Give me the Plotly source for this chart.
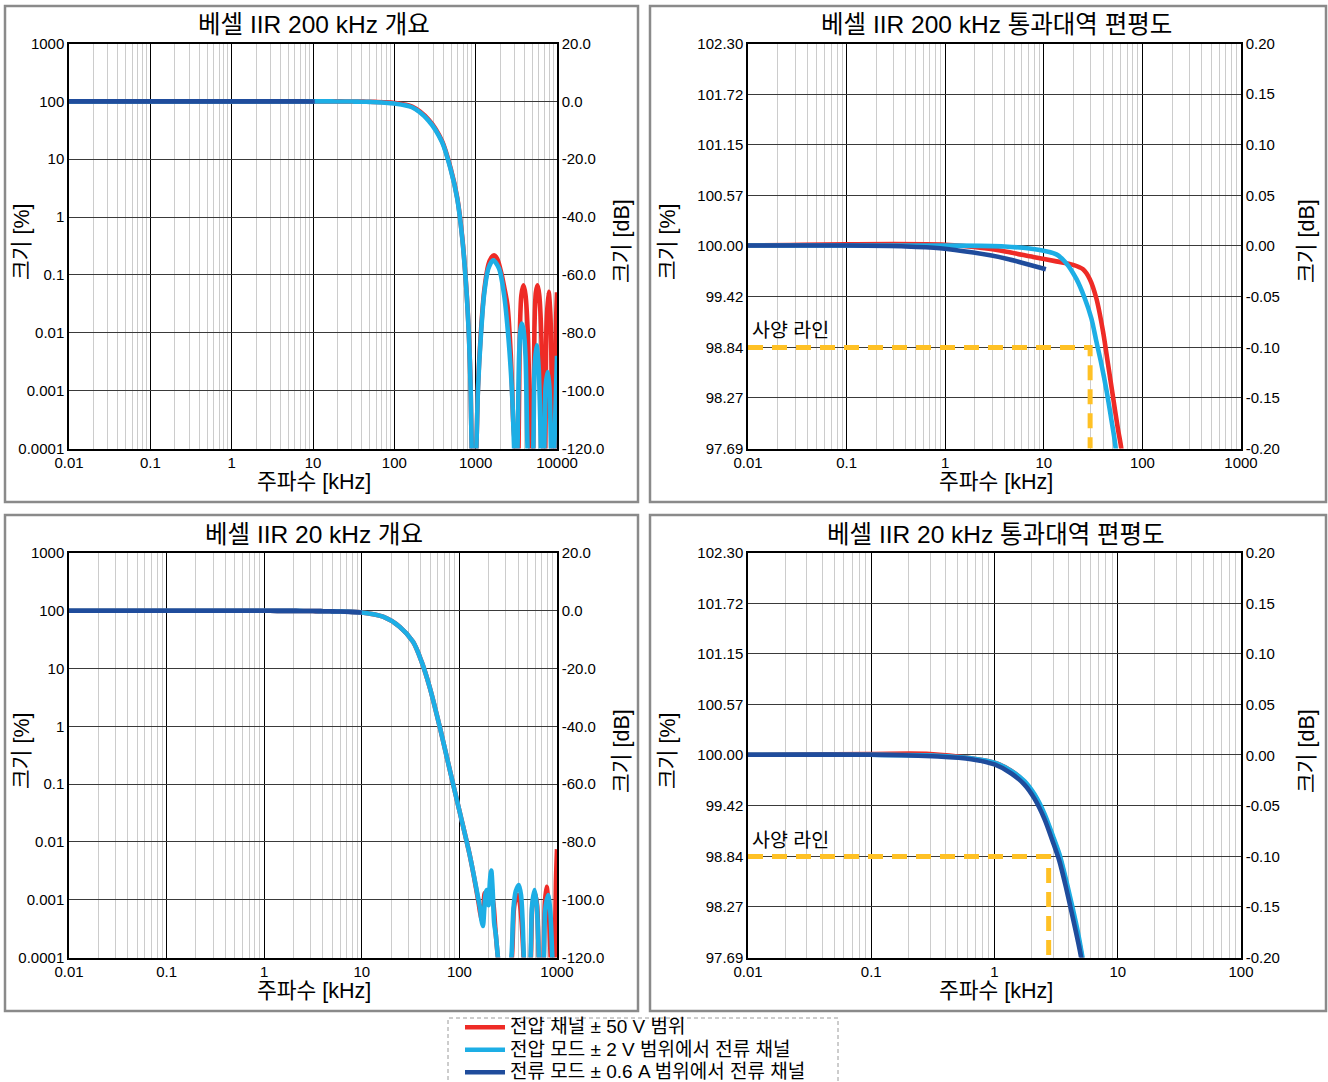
import plotly.graph_objects as go

# ---------------- data (frequency in kHz, magnitude in %) ----------------
# Bessel IIR 200 kHz
freq200_volt = [0.01, 0.1, 1, 2.5, 4.19, 7.8, 13.4, 19.8, 25, 29.2, 34.1, 39.9, 44.8, 50.3, 56.5, 61.1, 75, 100,
                165, 265, 387, 491, 594, 685, 767, 828, 867, 893, 950, 1019, 1069, 1153, 1268, 1433, 1560, 1680,
                1840, 2094, 2250, 2460, 2704, 2900, 3050, 3200, 3365, 3480, 3650, 3873, 4100, 4400, 4690, 4900,
                5107, 5280, 5500, 5768, 6050, 6400, 6774, 6950, 7180, 7450, 7888, 8300, 8850, 9100, 9350, 9700, 10000]
mag200_volt = [100.00, 100.015, 100.01, 99.97, 99.93, 99.87, 99.82, 99.78, 99.73, 99.62, 99.40, 99.02, 98.65, 98.28,
               97.91, 97.69, 96.5, 94, 81, 48, 20.5, 7.1, 2.15, 0.44, 0.06, 0.0085, 0.0012, 0.0001, 0.00001, 0.0001,
               0.0012, 0.009, 0.05, 0.15, 0.2, 0.219, 0.19, 0.1, 0.06, 0.03, 0.0041, 0.00028, 0.0001, 0.00001, 0.0001,
               0.008, 0.045, 0.066, 0.045, 0.008, 0.0001, 0.00001, 0.0001, 0.012, 0.05, 0.066, 0.045, 0.01, 0.0001,
               0.00001, 0.0001, 0.015, 0.051, 0.02, 0.0001, 0.00001, 0.0001, 0.012, 0.05]

freq200_vmode = [0.01, 0.1, 1, 4, 9.1, 13.4, 16.9, 21.4, 26, 30.4, 34.1, 38.4, 43.1, 48.4, 53.6, 70, 100, 165, 265,
                 387, 491, 594, 685, 767, 828, 867, 893, 950, 1019, 1069, 1153, 1268, 1433, 1636, 1940, 2238, 2531,
                 2782, 2972, 3120, 3268, 3420, 3550, 3697, 3880, 4100, 4346, 4700, 5107, 5300, 5611, 5950, 6342,
                 6650, 6977, 7250, 7674, 8050, 8436, 8850, 9270, 10000]
mag200_vmode = [100.00, 100.00, 100.00, 99.99, 99.95, 99.90, 99.80, 99.62, 99.40, 99.17, 98.91, 98.65, 98.36, 98.02,
                97.69, 95.5, 92, 79, 46, 19.6, 6.8, 2.07, 0.42, 0.058, 0.008, 0.0011, 0.0001, 0.00001, 0.0001, 0.0011,
                0.008, 0.045, 0.129, 0.179, 0.129, 0.045, 0.008, 0.0011, 0.0001, 0.00001, 0.0001, 0.004, 0.011, 0.0145,
                0.011, 0.004, 0.0001, 0.00001, 0.0001, 0.0025, 0.0061, 0.0025, 0.0001, 0.00001, 0.0001, 0.0012, 0.0021,
                0.0012, 0.0001, 0.00001, 0.0001, 0.004]

freq200_cmode = [0.01, 0.1, 0.4, 0.885, 1.93, 4.19, 6.68, 10.5]
mag200_cmode = [100.00, 100.00, 99.99, 99.97, 99.92, 99.85, 99.79, 99.73]

# Bessel IIR 20 kHz
freq20_volt = [0.01, 0.1, 0.3, 0.647, 1.0, 1.36, 1.75, 2.11, 2.54, 2.97, 3.36, 3.80, 4.31, 4.73, 5.1, 6, 7.4, 10, 16.5,
               24.4, 33.5, 40.9, 49.9, 63.2, 80.1, 101.6, 128.8, 157, 163, 170, 176, 182, 190, 198, 207, 215, 224, 234,
               248, 290, 345, 362, 380, 395, 415, 435, 455, 495, 540, 560, 595, 625, 650, 690, 730, 752, 782, 815, 861,
               905, 946, 975, 1000]
mag20_volt = [100.00, 100.01, 100.01, 99.96, 99.91, 99.82, 99.69, 99.54, 99.31, 99.06, 98.85, 98.55, 98.21, 97.95,
              97.71, 97.1, 96, 93.6, 79, 53, 29, 13.3, 4.6, 0.95, 0.17, 0.031, 0.0055, 0.0009, 0.0006, 0.00045, 0.0007,
              0.0013, 0.0011, 0.0012, 0.0013, 0.0012, 0.0008, 0.0003, 0.0001, 0.00001, 0.0001, 0.0007, 0.0011, 0.0012,
              0.0009, 0.0004, 0.0001, 0.00001, 0.0001, 0.0008, 0.0013, 0.0008, 0.0001, 0.00001, 0.0001, 0.0009,
              0.00168, 0.0009, 0.0001, 0.00001, 0.0001, 0.002, 0.0075]

freq20_vmode = [0.01, 0.1, 0.348, 0.647, 1.0, 1.36, 1.75, 2.11, 2.54, 2.97, 3.36, 3.80, 4.31, 4.73, 5.1, 6, 7.4, 10,
                16.5, 24.4, 33.5, 40.9, 49.9, 63.2, 80.1, 101.6, 128.8, 157, 163, 168, 174, 180, 186, 191, 199, 206,
                212, 219, 227, 236, 248, 290, 341, 358, 378, 406, 428, 445, 457, 495, 536, 556, 589, 620, 652, 690,
                734, 760, 813, 855, 895, 950, 1000]
mag20_vmode = [100.00, 100.00, 99.99, 99.96, 99.91, 99.82, 99.70, 99.55, 99.33, 99.08, 98.87, 98.58, 98.25, 97.99,
               97.74, 97.1, 96, 93.6, 79, 53, 29, 13.3, 4.6, 0.95, 0.17, 0.031, 0.0055, 0.00099, 0.0007, 0.00045,
               0.00035, 0.0007, 0.0013, 0.00147, 0.0008, 0.0022, 0.0032, 0.0015, 0.0004, 0.00025, 0.0001, 0.00001,
               0.0001, 0.0007, 0.0014, 0.0018, 0.0012, 0.0004, 0.0001, 0.00001, 0.0001, 0.0008, 0.00147, 0.0008,
               0.0001, 0.00001, 0.0001, 0.0007, 0.0012, 0.0006, 0.0001, 0.00001, 0.000005]

freq20_cmode = [0.01, 0.1, 0.348, 0.647, 1.0, 1.36, 1.75, 2.11, 2.54, 2.97, 3.36, 3.80, 4.31, 4.73, 5.03, 6, 7.4, 10]
mag20_cmode = [100.00, 100.00, 99.98, 99.95, 99.89, 99.79, 99.66, 99.50, 99.27, 99.01, 98.79, 98.49, 98.15, 97.89,
               97.70, 97.0, 95.8, 93.5]

# spec line
spec_level = 98.84
spec_freq_200 = 29.5
spec_freq_20 = 2.75

series_names = ["전압 채널 ± 50 V 범위", "전압 모드 ± 2 V 범위에서 전류 채널", "전류 모드 ± 0.6 A 범위에서 전류 채널"]
panel_titles = ["베셀 IIR 200 kHz 개요", "베셀 IIR 200 kHz 통과대역 편평도",
                "베셀 IIR 20 kHz 개요", "베셀 IIR 20 kHz 통과대역 편평도"]

freq_ticks = [0.01, 0.1, 1, 10, 100, 1000, 10000]
freq_text = ["0.01", "0.1", "1", "10", "100", "1000", "10000"]
ov_pct_ticks = [1000, 100, 10, 1, 0.1, 0.01, 0.001, 0.0001]
ov_pct_text = ["1000", "100", "10", "1", "0.1", "0.01", "0.001", "0.0001"]
ov_db_ticks = [20, 0, -20, -40, -60, -80, -100, -120]
ov_db_text = ["20.0", "0.0", "-20.0", "-40.0", "-60.0", "-80.0", "-100.0", "-120.0"]
pb_pct_ticks = [102.30, 101.72, 101.15, 100.57, 100.00, 99.42, 98.84, 98.27, 97.69]
pb_db_ticks = [0.20, 0.15, 0.10, 0.05, 0.00, -0.05, -0.10, -0.15, -0.20]

# ---------------- styling ----------------
W, H = 1328, 1082
FONT = "Liberation Sans, Arial, Noto Sans CJK KR, sans-serif"
RED, CYAN, NAVY, SPEC = "#EE2B26", "#1DAEE5", "#1F4C9C", "#FFC125"


def px(x):
    return x / W


def py(y):
    return 1 - y / H


XL = [px(69), px(557)]
XR = [px(748), px(1241)]
YT = [py(448.5), py(43.5)]
YB = [py(957.5), py(553)]

fig = go.Figure()

data200 = [(freq200_volt, mag200_volt), (freq200_vmode, mag200_vmode), (freq200_cmode, mag200_cmode)]
data20 = [(freq20_volt, mag20_volt), (freq20_vmode, mag20_vmode), (freq20_cmode, mag20_cmode)]
colors = [RED, CYAN, NAVY]

panels = [("x", "y", "y5", data200, None), ("x2", "y2", "y6", data200, spec_freq_200),
          ("x3", "y3", "y7", data20, None), ("x4", "y4", "y8", data20, spec_freq_20)]

for pi, (xa, ya, yr, dset, sfreq) in enumerate(panels):
    if sfreq is not None:
        fig.add_trace(go.Scatter(x=[0.01, sfreq, sfreq], y=[spec_level, spec_level, pb_pct_ticks[-1]],
                                 mode="lines", xaxis=xa, yaxis=ya, showlegend=False, hoverinfo="skip",
                                 line=dict(color=SPEC, width=5, dash="15px,9px")))
    for si, (f, m) in enumerate(dset):
        fig.add_trace(go.Scatter(x=f, y=m, mode="lines", xaxis=xa, yaxis=ya,
                                 name=f"<span style='font-size:19px'>{series_names[si]}</span>",
                                 showlegend=(pi == 0),
                                 line=dict(color=colors[si], width=4.6, shape="spline", smoothing=0.8)))
    # empty trace so that the right-hand dB axis of this panel is drawn
    fig.add_trace(go.Scatter(x=[], y=[], mode="lines", xaxis=xa, yaxis=yr, showlegend=False, hoverinfo="skip"))

tickfont = dict(family=FONT, size=15, color="black")


def xcfg(domain, rng, anchor):
    return dict(type="log", domain=domain, range=rng, anchor=anchor, tickmode="array",
                tickvals=freq_ticks, ticktext=freq_text,
                showgrid=True, gridcolor="#000000", gridwidth=1,
                minor=dict(dtick="D1", showgrid=True, gridcolor="#cccccc", gridwidth=1.2, ticks=""),
                ticks="", showline=True, linecolor="black", linewidth=1.5, mirror=True, zeroline=False,
                tickfont=tickfont)


def ylog(domain, anchor):
    return dict(type="log", domain=domain, range=[-4, 3], anchor=anchor, tickmode="array",
                tickvals=ov_pct_ticks, ticktext=ov_pct_text, showgrid=True, gridcolor="#3a3a3a", gridwidth=1.3,
                ticks="", showline=True, linecolor="black", linewidth=1.5, zeroline=False, tickfont=tickfont)


def ylin(domain, anchor):
    return dict(domain=domain, range=[pb_pct_ticks[-1], pb_pct_ticks[0]], anchor=anchor, tickmode="array",
                tickvals=pb_pct_ticks, ticktext=[f"{v:.2f}" for v in pb_pct_ticks], showgrid=True,
                gridcolor="#3a3a3a", gridwidth=1.3, ticks="", showline=True, linecolor="black", linewidth=1.5,
                zeroline=False, tickfont=tickfont)


def yright(over, anchor, ticks, text, rng):
    return dict(overlaying=over, side="right", anchor=anchor, range=rng, tickmode="array", tickvals=ticks,
                ticktext=text, showgrid=False, ticks="", showline=True, linecolor="black", linewidth=1.5,
                zeroline=False, tickfont=tickfont)


fig.update_layout(
    width=W, height=H, margin=dict(l=0, r=0, t=0, b=0, pad=0, autoexpand=False),
    paper_bgcolor="white", plot_bgcolor="white",
    font=dict(family=FONT, color="black"),
    xaxis=xcfg(XL, [-2, 4], "y"),
    xaxis2=xcfg(XR, [-2, 3], "y2"),
    xaxis3=xcfg(XL, [-2, 3], "y3"),
    xaxis4=xcfg(XR, [-2, 2], "y4"),
    yaxis=ylog(YT, "x"),
    yaxis2=ylin(YT, "x2"),
    yaxis3=ylog(YB, "x3"),
    yaxis4=ylin(YB, "x4"),
    yaxis5=yright("y", "x", ov_db_ticks, ov_db_text, [-120, 20]),
    yaxis6=yright("y2", "x2", pb_db_ticks, [f"{v:.2f}" for v in pb_db_ticks], [-0.2, 0.2]),
    yaxis7=yright("y3", "x3", ov_db_ticks, ov_db_text, [-120, 20]),
    yaxis8=yright("y4", "x4", pb_db_ticks, [f"{v:.2f}" for v in pb_db_ticks], [-0.2, 0.2]),
    showlegend=True,
    legend=dict(x=px(460), y=py(1011), xanchor="left", yanchor="top", bgcolor="rgba(0,0,0,0)",
                borderwidth=0, font=dict(family=FONT, size=15, color="black"), tracegroupgap=0,
                itemwidth=40),
)

# panel frames
frames = [(5, 6, 638, 502), (650, 6, 1326, 502), (5, 515, 638, 1011), (650, 515, 1326, 1011)]
shapes = []
for (x0, y0, x1, y1) in frames:
    shapes.append(dict(type="rect", xref="paper", yref="paper", x0=px(x0), x1=px(x1), y0=py(y1), y1=py(y0),
                       line=dict(color="#8a8a8a", width=2.5), layer="below"))
shapes.append(dict(type="rect", xref="paper", yref="paper", x0=px(448), x1=px(838), y0=py(1090), y1=py(1018),
                   line=dict(color="#9a9a9a", width=1, dash="4px,3px")))
fig.update_layout(shapes=shapes)

ann = []
title_pos = [(314, 25), (996, 25), (314, 535), (996, 535)]
for t, (x, y) in zip(panel_titles, title_pos):
    ann.append(dict(text=t, x=px(x), y=py(y), xref="paper", yref="paper", showarrow=False,
                    xanchor="center", yanchor="middle", font=dict(family=FONT, size=24.5, color="black")))
for (x, y) in [(314, 482), (996, 482), (314, 991), (996, 991)]:
    ann.append(dict(text="주파수 [kHz]", x=px(x), y=py(y), xref="paper", yref="paper", showarrow=False,
                    xanchor="center", yanchor="middle", font=dict(family=FONT, size=21.5, color="black")))
for (x, y) in [(22, 242), (668, 242), (22, 751), (668, 751)]:
    ann.append(dict(text="크기 [%]", x=px(x), y=py(y), xref="paper", yref="paper", showarrow=False,
                    textangle=-90, xanchor="center", yanchor="middle",
                    font=dict(family=FONT, size=21.5, color="black")))
for (x, y) in [(622, 241), (1307, 241), (622, 751), (1307, 751)]:
    ann.append(dict(text="크기 [dB]", x=px(x), y=py(y), xref="paper", yref="paper", showarrow=False,
                    textangle=-90, xanchor="center", yanchor="middle",
                    font=dict(family=FONT, size=21.5, color="black")))
for xa, ya in [("x2", "y2"), ("x4", "y4")]:
    ann.append(dict(text="사양 라인", x=-2, y=spec_level, xref=xa, yref=ya, showarrow=False,
                    xanchor="left", yanchor="bottom", xshift=2, yshift=4,
                    font=dict(family=FONT, size=19.5, color="black")))
fig.update_layout(annotations=ann)

# the page's default 8px body margin would shift the 1328x1082 figure off the window
fig.write_html("out.html", config={"displayModeBar": False},
               post_script="document.body.style.margin='0';")
